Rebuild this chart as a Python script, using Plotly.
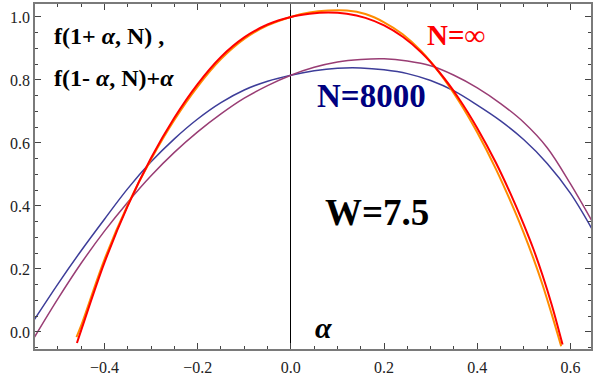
import plotly.graph_objects as go

# N = infinity pair: f(1+a, inf) and f(1-a, inf)+a
alpha_inf = [-0.459, -0.45, -0.40, -0.35, -0.30, -0.25, -0.20, -0.15, -0.10, -0.05,
             0.0, 0.04, 0.08, 0.12, 0.16, 0.20, 0.24, 0.28, 0.32, 0.36,
             0.40, 0.44, 0.48, 0.50, 0.52, 0.54, 0.56, 0.583]
f_plus_inf = [-0.035, 0.005, 0.22, 0.40, 0.552, 0.68, 0.787, 0.873, 0.935, 0.976,
              1.0, 1.01, 1.014, 1.01, 0.997, 0.973, 0.937, 0.887, 0.822, 0.742,
              0.647, 0.537, 0.41, 0.34, 0.265, 0.18, 0.085, -0.04]
alpha_inf_m = [-0.46, -0.45, -0.40, -0.35, -0.30, -0.25, -0.20, -0.15, -0.10, -0.05,
               0.0, 0.04, 0.08, 0.12, 0.16, 0.20, 0.24, 0.28, 0.32, 0.36,
               0.40, 0.44, 0.48, 0.50, 0.52, 0.54, 0.56, 0.58]
f_minus_inf = [-0.016, 0.02, 0.23, 0.403, 0.548, 0.673, 0.779, 0.866, 0.93, 0.973,
               1.0, 1.014, 1.02, 1.02, 1.009, 0.983, 0.945, 0.891, 0.82, 0.734,
               0.633, 0.517, 0.385, 0.313, 0.235, 0.15, 0.055, -0.045]

# N = 8000 pair
alpha_8000 = [-0.55, -0.50, -0.45, -0.40, -0.35, -0.30, -0.25, -0.20, -0.15, -0.10,
              -0.05, 0.0, 0.05, 0.10, 0.15, 0.20, 0.25, 0.30, 0.35, 0.40,
              0.45, 0.50, 0.55, 0.60, 0.645]
f_plus_8000 = [0.04, 0.152, 0.258, 0.358, 0.455, 0.54, 0.613, 0.676, 0.728, 0.768,
               0.796, 0.815, 0.829, 0.837, 0.838, 0.832, 0.82, 0.798, 0.765, 0.72,
               0.67, 0.61, 0.535, 0.44, 0.33]
f_minus_8000 = [-0.016, 0.105, 0.218, 0.32, 0.412, 0.496, 0.57, 0.635, 0.692, 0.742,
                0.782, 0.815, 0.84, 0.857, 0.865, 0.867, 0.86, 0.845, 0.815, 0.775,
                0.725, 0.665, 0.585, 0.47, 0.355]

x_ticks = [-0.4, -0.2, 0.0, 0.2, 0.4, 0.6]
y_ticks = [0.0, 0.2, 0.4, 0.6, 0.8, 1.0]

serif = "Liberation Serif"

fig = go.Figure()
fig.add_trace(go.Scatter(x=alpha_8000, y=f_plus_8000, mode="lines",
                         line=dict(color="#3d3d99", width=1.5, shape="spline")))
fig.add_trace(go.Scatter(x=alpha_8000, y=f_minus_8000, mode="lines",
                         line=dict(color="#993d74", width=1.5, shape="spline")))
fig.add_trace(go.Scatter(x=alpha_inf_m, y=f_minus_inf, mode="lines",
                         line=dict(color="#ff8c00", width=2, shape="spline")))
fig.add_trace(go.Scatter(x=alpha_inf, y=f_plus_inf, mode="lines",
                         line=dict(color="#ff0000", width=2, shape="spline")))

axis_common = dict(
    showline=True, linecolor="#7a7a7a", linewidth=1.5, mirror="allticks",
    ticks="inside", ticklen=6, tickwidth=1, tickcolor="#444",
    minor=dict(ticks="inside", ticklen=3, tickwidth=1, tickcolor="#444", dtick=0.05),
    showgrid=False,
    tickfont=dict(family=serif, size=16, color="#222"),
)

fig.update_xaxes(range=[-0.549, 0.644], tickvals=x_ticks,
                 ticktext=[f"{v:.1f}".replace("-", "\u2212") for v in x_ticks],
                 zeroline=True, zerolinecolor="black", zerolinewidth=1,
                 ticklabelstandoff=3, **axis_common)
fig.update_yaxes(range=[-0.054, 1.041], tickvals=y_ticks,
                 ticktext=[f"{v:.1f}" for v in y_ticks],
                 zeroline=False, **axis_common)

ann = [
    dict(x=-0.512, y=0.94, xanchor="left", yanchor="middle",
         text="<b>f(1+ <i>α</i>, N) ,</b>", font=dict(family=serif, size=24, color="black")),
    dict(x=-0.512, y=0.806, xanchor="left", yanchor="middle",
         text="<b>f(1- <i>α</i>, N)+<i>α</i></b>", font=dict(family=serif, size=24, color="black")),
    dict(x=0.355, y=0.943, xanchor="center", yanchor="middle",
         text="<b>N=∞</b>", font=dict(family=serif, size=29, color="#ff0000")),
    dict(x=0.173, y=0.75, xanchor="center", yanchor="middle",
         text="<b>N=8000</b>", font=dict(family=serif, size=33, color="#00007f")),
    dict(x=0.184, y=0.38, xanchor="center", yanchor="middle",
         text="<b>W=7.5</b>", font=dict(family=serif, size=37, color="black")),
    dict(x=0.07, y=0.013, xanchor="center", yanchor="middle",
         text="<b><i>α</i></b>", font=dict(family=serif, size=30, color="black")),
]
fig.update_layout(
    width=595, height=383,
    margin=dict(l=35, r=2, t=3, b=34),
    paper_bgcolor="white", plot_bgcolor="white",
    showlegend=False,
    annotations=[dict(a, showarrow=False) for a in ann],
)

fig.write_html("out.html")
